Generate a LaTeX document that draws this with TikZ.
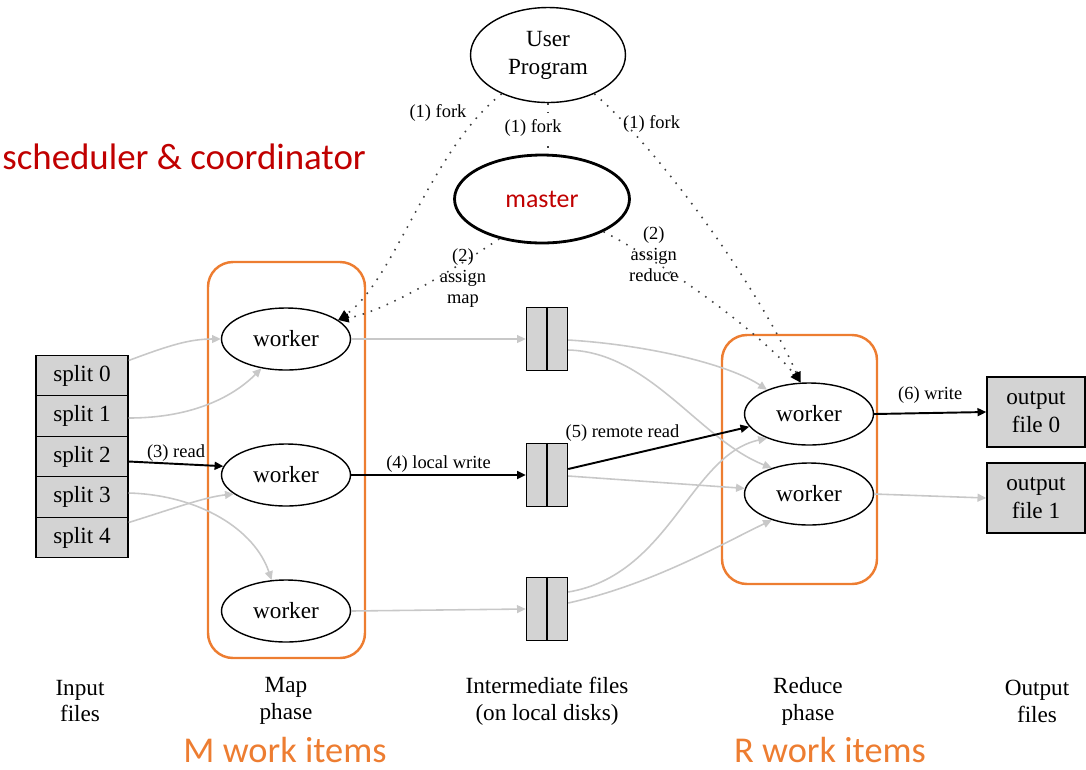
\documentclass[tikz,border=0pt]{standalone}
\usepackage{fontspec}
\setmainfont{Liberation Serif}
\newfontfamily\annofont{Carlito}
\usetikzlibrary{shapes.geometric, arrows.meta, calc}

\definecolor{mrred}{HTML}{C00000}
\definecolor{mrorange}{HTML}{ED7D31}
\definecolor{boxgray}{HTML}{D3D3D3}
\definecolor{edgegray}{HTML}{C8C8C8}

\begin{document}
\begin{tikzpicture}[
    x=0.02cm, y=-0.02cm,
    >={Triangle[length=5pt,width=4.5pt]},
    every node/.style={font=\fontsize{13.2}{16}\selectfont},
    worker/.style={ellipse, draw, line width=0.8pt, minimum width=2.58cm, minimum height=1.24cm, inner sep=0pt},
    filebox/.style={draw, line width=0.8pt, fill=boxgray, minimum width=1.84cm, minimum height=0.81cm, inner sep=0pt},
    interbox/.style={draw, line width=0.8pt, fill=boxgray, minimum width=0.82cm, minimum height=1.26cm, inner sep=0pt},
    phasebox/.style={draw=mrorange, line width=1.4pt, rounded corners=0.5cm},
    grayedge/.style={draw=edgegray, line width=0.9pt, ->},
    blackedge/.style={draw=black, line width=1.1pt, ->},
    forkedge/.style={draw=black!75, line width=0.9pt, dash pattern=on 0.9pt off 4pt,
        -{Triangle[length=6pt,width=5pt,black]}},
    lbl/.style={font=\fontsize{10.5}{12}\selectfont, align=center, inner sep=1pt},
    caption/.style={font=\fontsize{13.2}{15.3}\selectfont, align=center},
    anno/.style={font=\annofont\fontsize{20.7}{24}\selectfont, text=mrorange}
]
\useasboundingbox (0,0) rectangle (1086,769);

% Phase frames
\draw[phasebox] (208,262) rectangle (365,658);
\draw[phasebox] (722,335) rectangle (877,584);

% User program and master
\node[ellipse, draw, line width=0.8pt, minimum width=3.1cm, minimum height=1.9cm, align=center] (user) at (548,55) {User\\Program};
\node[ellipse, draw, line width=1.6pt, minimum width=3.5cm, minimum height=1.76cm, text=mrred,
    font=\annofont\fontsize{14.7}{17}\selectfont] (master) at (542,199) {master};
\node[anchor=west, inner sep=0pt, text=mrred, font=\annofont\fontsize{21}{24}\selectfont] (sched) at (2,157) {scheduler \& coordinator};

% Input splits
\foreach \i in {0,...,4}
    \node[filebox] (s\i) at (82,{375.5+40.5*\i}) {split \i};

% Map workers
\node[worker] (w1) at (286,339) {worker};
\node[worker] (w2) at (286,475) {worker};
\node[worker] (w3) at (286,611) {worker};

% Intermediate files
\foreach \n/\y in {f1/339, f2/475, f3/609} {
    \node[interbox] (\n) at (547,\y) {};
    \draw[line width=0.8pt] (\n.north) -- (\n.south);
}

% Reduce workers
\node[worker] (r1) at (809,414) {worker};
\node[worker] (r2) at (809,494) {worker};

% Output files
\node[filebox, minimum width=1.96cm, minimum height=1.4cm, align=center] (o0) at (1036,412) {output\\file 0};
\node[filebox, minimum width=1.96cm, minimum height=1.4cm, align=center] (o1) at (1036,498) {output\\file 1};

% Reading the splits
\draw[grayedge] ($(s0.east)+(0,-15)$) .. controls (170,345) and (190,339) .. (w1.west);
\draw[grayedge] ($(s1.east)+(0,2)$) .. controls (195,418) and (235,395) .. (w1.-130);
\draw[blackedge] ($(s2.east)+(0,5)$) -- node[lbl, above] {(3) read} (w2.172);
\draw[grayedge] ($(s3.east)+(0,-4)$) .. controls (200,495) and (255,530) .. (w3.115);
\draw[grayedge] ($(s4.east)+(0,-15)$) .. controls (175,508) and (205,497) .. (w2.-160);

% Local writes
\draw[grayedge] (w1.east) -- (f1.west);
\draw[blackedge] (w2.east) -- node[lbl, above] {(4) local write} (f2.west);
\draw[grayedge] (w3.east) -- (f3.west);

% Remote reads
\draw[grayedge] ($(f1.east)+(0,1)$) .. controls (650,345) and (730,365) .. (r1.150);
\draw[grayedge] ($(f1.east)+(0,11)$) .. controls (650,352) and (700,440) .. (r2.145);
\draw[blackedge] ($(f2.east)+(0,-6)$) -- node[lbl, above=7pt, pos=0.3] {(5) remote read} (r1.192);
\draw[grayedge] ($(f2.east)+(0,1)$) -- (r2.175);
\draw[grayedge] ($(f3.east)+(0,-17)$) .. controls (670,575) and (690,455) .. (r1.-150);
\draw[grayedge] ($(f3.east)+(0,-6)$) .. controls (650,585) and (720,545) .. (r2.-145);

% Final writes
\draw[blackedge] (r1.east) -- node[lbl, above=4pt] {(6) write} (o0.west);
\draw[grayedge] (r2.east) -- (o1.west);

% Fork and assign
\draw[forkedge] (user.-140) .. controls (430,150) and (395,280) .. node[lbl, pos=0.1, left=7pt] {(1) fork} (w1.20);
\draw[draw=black!75, line width=0.9pt, dash pattern=on 0.9pt off 4pt] (user.south) -- node[lbl, fill=white, xshift=-8.5pt] {(1) fork} (user.south |- master.north);
\draw[forkedge] (user.-40) .. controls (660,150) and (760,290) .. node[lbl, pos=0.15, right=-3pt] {(1) fork} (r1.105);
\draw[forkedge] (master.-137) .. controls (460,265) and (390,310) .. node[lbl, pos=0.3, xshift=3.4pt, yshift=-6.8pt] {(2)\\assign\\map} (w1.20);
\draw[forkedge] (master.-28) .. controls (650,255) and (760,330) .. node[lbl, pos=0.2, xshift=9pt, yshift=-1.7pt] {(2)\\assign\\reduce} (r1.105);

% Column captions
\node[caption] (incap) at (80,701) {Input\\files};
\node[caption] (mapcap) at (286,701) {Map\\phase};
\node[caption] (midcap) at (547,701) {Intermediate files\\(on local disks)};
\node[caption] (redcap) at (808,701) {Reduce\\phase};
\node[caption] (outcap) at (1037,701) {Output\\files};

% Work items
\node[anno] (mitems) at (285,750) {M work items};
\node[anno] (ritems) at (830,750) {R work items};

\end{tikzpicture}
\end{document}
